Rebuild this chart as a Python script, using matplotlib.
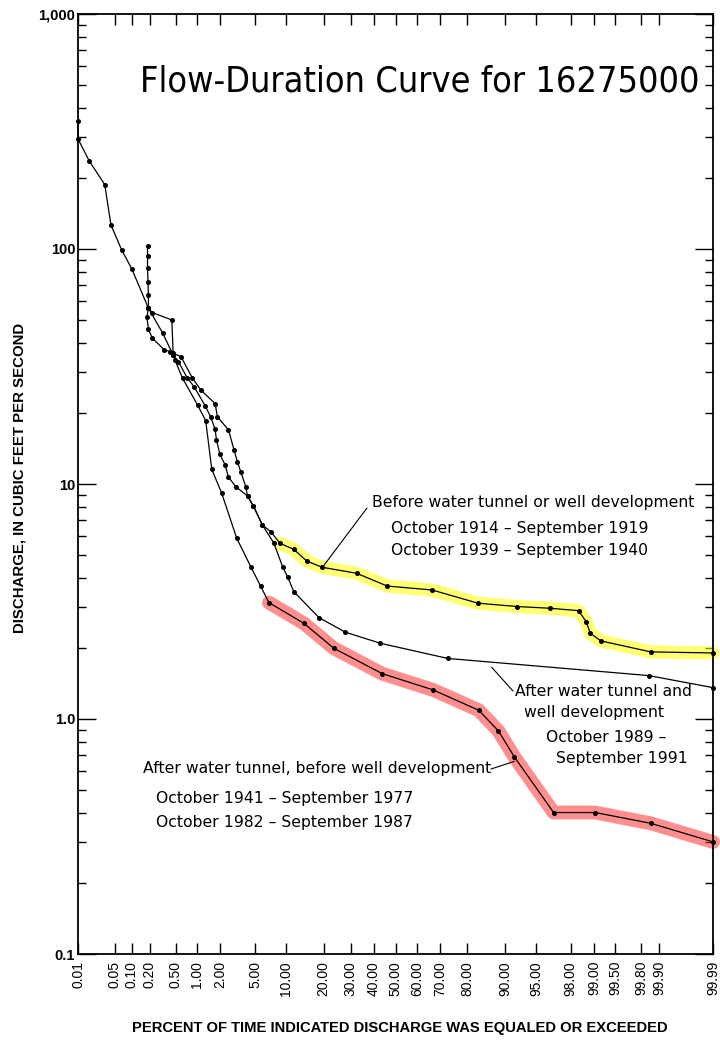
import numpy as np
import matplotlib
matplotlib.use("Agg")
import matplotlib.pyplot as plt
import matplotlib.font_manager as fm
from matplotlib.ticker import FixedLocator, NullLocator, LogLocator, NullFormatter
from statistics import NormalDist

# ---------------- data (percent of time exceeded, discharge cfs) ----------------
# After water tunnel, before well development (Oct 1941-Sep 1977, Oct 1982-Sep 1987)
R_pct = [0.01, 0.01, 0.0167, 0.033, 0.043, 0.067, 0.10, 0.19, 0.32, 0.46, 0.49, 0.63,
         1.02, 1.31, 1.57, 2.09, 3.15, 4.5, 5.7, 6.9, 14.2, 23.5, 43.8, 67.0, 83.5,
         88.6, 91.8, 96.8, 99.03, 99.86, 99.99]
R_cfs = [352, 294, 237, 188, 126.5, 99, 82.5, 56, 43.8, 35.4, 33.7, 28.2,
         21.7, 18.6, 11.55, 9.13, 5.87, 4.45, 3.68, 3.13, 2.55, 2.0, 1.56, 1.33, 1.09,
         0.89, 0.69, 0.40, 0.40, 0.36, 0.30]

# Before water tunnel or well development (Oct 1914-Sep 1919, Oct 1939-Sep 1940)
Y_pct = [0.19, 0.18, 0.19, 0.22, 0.34, 0.42, 0.46, 0.55, 0.74, 0.92, 1.29, 1.52, 1.73,
         1.80, 1.98, 2.30, 2.52, 3.07, 4.15, 4.8, 5.95, 7.2, 8.8, 11.7, 14.9, 19.6, 32.4,
         46.1, 66.6, 83.3, 92.3, 96.5, 98.4, 98.73, 98.87, 99.19, 99.86, 99.99]
Y_cfs = [56, 51.2, 45.5, 41.7, 37.2, 36.6, 35.4, 33.1, 28.2, 25.9, 21.5, 19.3, 17.1,
         15.4, 13.4, 12.05, 10.7, 9.74, 8.89, 8.06, 6.69, 6.27, 5.59, 5.27, 4.70, 4.42, 4.17,
         3.68, 3.54, 3.11, 3.01, 2.96, 2.89, 2.59, 2.32, 2.15, 1.93, 1.91]

# After water tunnel and well development (Oct 1989-Sep 1991)
K_pct = [0.184, 0.184, 0.184, 0.187, 0.19, 0.19, 0.22, 0.44, 0.46, 0.60, 0.87, 1.13, 1.73,
         1.85, 2.52, 2.93, 3.21, 3.49, 3.97, 4.15, 4.8, 5.95, 7.7, 9.3, 10.3, 11.7, 18.5,
         27.9, 43.0, 73.0, 99.85, 99.99]
K_cfs = [103, 93.4, 82.8, 72.2, 63.7, 56, 53.6, 49.9, 36.0, 34.8, 28.2, 25.1, 22.0,
         19.3, 17.0, 13.96, 12.4, 11.3, 9.74, 8.89, 8.06, 6.69, 5.61, 4.45, 4.03, 3.48, 2.70,
         2.34, 2.10, 1.81, 1.53, 1.36]

x_ticks = [0.01, 0.05, 0.10, 0.20, 0.50, 1.00, 2.00, 5.00, 10.00, 20.00, 30.00, 40.00,
           50.00, 60.00, 70.00, 80.00, 90.00, 95.00, 98.00, 99.00, 99.50, 99.80, 99.90, 99.99]
x_tick_labels = ["%.2f" % v for v in x_ticks]
y_ticks = [0.1, 1, 10, 100, 1000]
y_tick_labels = ["0.1", "1.0", "10", "100", "1,000"]

# ---------------- probability scale ----------------
ND = NormalDist()
_inv = np.vectorize(ND.inv_cdf, otypes=[float])
_cdf = np.vectorize(ND.cdf, otypes=[float])


def fwd(p):
    p = np.asarray(p, dtype=float)
    q = p / 100.0
    ok = np.isfinite(q)
    qq = np.clip(np.where(ok, q, 0.5), 1e-12, 1 - 1e-12)
    out = _inv(qq)
    return np.where(ok, out, np.nan)


def inv(z):
    z = np.asarray(z, dtype=float)
    ok = np.isfinite(z)
    zz = np.where(ok, z, 0.0)
    out = _cdf(zz) * 100.0
    out = np.where(np.isposinf(z), 100.0, out)
    out = np.where(np.isneginf(z), 0.0, out)
    return np.where(ok | np.isinf(z), out, np.nan)


W, H = 720, 1045
fig = plt.figure(figsize=(W / 100, H / 100), dpi=100)
L, Rr, T, B = 78, 713, 14, 954
ax = fig.add_axes([L / W, 1 - B / H, (Rr - L) / W, (B - T) / H])

ax.set_xscale("function", functions=(fwd, inv))
ax.set_yscale("log")
ax.set_xlim(0.01, 99.99)
ax.set_ylim(0.1, 1000)

# highlights
ax.plot(Y_pct[22:], Y_cfs[22:], color="#ffff00", alpha=0.55, lw=9.5,
        solid_capstyle="round", solid_joinstyle="round", zorder=2, clip_on=False)
ax.plot(R_pct[19:], R_cfs[19:], color="#ff2020", alpha=0.5, lw=10,
        solid_capstyle="round", solid_joinstyle="round", zorder=2, clip_on=False)

for p, q in ((R_pct, R_cfs), (Y_pct, Y_cfs), (K_pct, K_cfs)):
    ax.plot(p, q, "-", color="black", lw=0.9, marker="o", ms=2.6, mfc="black",
            mec="black", zorder=3, clip_on=False)

for s in ax.spines.values():
    s.set_linewidth(1.3)

tick_font = "Liberation Sans"
ann_font = "DejaVu Sans"
ax.xaxis.set_major_locator(FixedLocator(x_ticks))
ax.xaxis.set_minor_locator(NullLocator())
ax.set_xticklabels(x_tick_labels, rotation=90, fontsize=10, family=tick_font)
ax.tick_params(axis="x", which="major", direction="in", top=True, bottom=True,
               length=8, width=1.0, pad=5)

ax.yaxis.set_major_locator(FixedLocator(y_ticks))
ax.set_yticklabels(y_tick_labels, fontsize=10.5, family=tick_font, fontweight="bold")
ax.yaxis.set_minor_locator(LogLocator(base=10, subs=np.arange(2, 10)))
ax.yaxis.set_minor_formatter(NullFormatter())
ax.tick_params(axis="y", which="major", direction="in", left=True, right=True,
               length=13, width=1.0, pad=2)
ax.tick_params(axis="y", which="minor", direction="in", left=True, right=True,
               length=6, width=1.0)

fig.text(400 / W, 1 - 1028 / H, "PERCENT OF TIME INDICATED DISCHARGE WAS EQUALED OR EXCEEDED",
         ha="center", va="center", fontsize=10.6, family=tick_font, fontweight="bold")
fig.text(20 / W, 1 - 478 / H, "DISCHARGE, IN CUBIC FEET PER SECOND", rotation=90,
         ha="center", va="center", fontsize=10.8, family=tick_font, fontweight="bold")

# ---- title: a narrow font if one is installed, fitted to the reference width ----
title_prop = None
for f in fm.fontManager.ttflist:
    nm = (f.name + " " + f.fname).lower()
    if ("narrow" in nm or "condensed" in nm) and "bold" not in nm and "italic" not in nm \
            and "oblique" not in nm:
        title_prop = fm.FontProperties(fname=f.fname)
        break
if title_prop is None:
    title_prop = fm.FontProperties(family="Liberation Sans")
title_prop.set_size(30)
title = fig.text(420 / W, 1 - 82 / H, "Flow-Duration Curve for 16275000", ha="center",
                 va="center", fontproperties=title_prop)
renderer = fig.canvas.get_renderer()
wpx = title.get_window_extent(renderer).width
title_prop.set_size(30 * 560.0 / wpx)
title.set_fontproperties(title_prop)


def ftxt(x, y, s, ha="left"):
    fig.text(x / W, 1 - y / H, s, ha=ha, va="center", fontsize=11.25, family=ann_font)


ftxt(372, 502, "Before water tunnel or well development")
ftxt(391, 528, "October 1914 \u2013 September 1919")
ftxt(391, 550, "October 1939 \u2013 September 1940")
ftxt(515, 692, "After water tunnel and")
ftxt(524, 713, "well development")
ftxt(546, 738, "October 1989 \u2013")
ftxt(556, 758, "September 1991")
ftxt(143, 768, "After water tunnel, before well development")
ftxt(156, 798, "October 1941 \u2013 September 1977")
ftxt(156, 822, "October 1982 \u2013 September 1987")

lk = dict(arrowstyle="-", lw=0.8, color="black", shrinkA=0, shrinkB=0)
ax.annotate("", xy=(Y_pct[25], Y_cfs[25]), xycoords="data",
            xytext=(367 / W, 1 - 508 / H), textcoords="figure fraction", arrowprops=lk)
ax.annotate("", xy=(87.0, 1.66), xycoords="data",
            xytext=(513 / W, 1 - 691 / H), textcoords="figure fraction", arrowprops=lk)
ax.annotate("", xy=(91.8, 0.66), xycoords="data",
            xytext=(491 / W, 1 - 769 / H), textcoords="figure fraction", arrowprops=lk)

fig.savefig("out.png", dpi=100)
